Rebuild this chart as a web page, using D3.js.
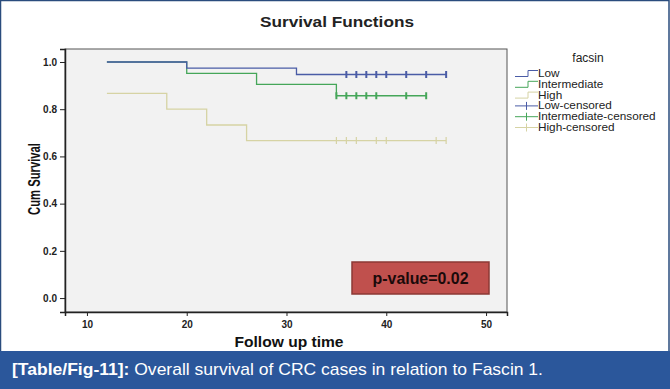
<!DOCTYPE html>
<html>
<head>
<meta charset="utf-8">
<script src="https://cdn.jsdelivr.net/npm/d3@7"></script>
<style>
  html, body { margin: 0; padding: 0; background: #fff; }
  svg { display: block; }
</style>
</head>
<body>
<div id="chart"></div>
<script>
// Kaplan-Meier steps
var groups = ["Low", "Intermediate", "High"];
var lowTime = [12, 20, 31, 46];
var lowSurv = [1.0, 0.974, 0.947, 0.947];
var lowCensored = [36, 37, 38, 39, 40, 42, 44, 46];

var midTime = [12, 20, 27, 35, 44];
var midSurv = [1.0, 0.952, 0.905, 0.857, 0.857];
var midCensored = [35, 36, 37, 38, 39, 42, 44];

var highTime = [12, 18, 22, 26, 46];
var highSurv = [0.867, 0.8, 0.733, 0.667, 0.667];
var highCensored = [35, 36, 37, 39, 40, 45, 46];

var xTicks = [10, 20, 30, 40, 50];
var yTicks = [0.0, 0.2, 0.4, 0.6, 0.8, 1.0];
var legendLabels = ["Low", "Intermediate", "High", "Low-censored", "Intermediate-censored", "High-censored"];
var colors = ["#4a5ca6", "#45a659", "#d6d3a4"];

var svg_Width = 670, svg_Height = 389;
var plot = { left: 65, right: 507, top: 49, bottom: 312 };

var svg = d3.select("#chart").append("svg")
  .attr("width", svg_Width)
  .attr("height", svg_Height);

// outer frame
svg.append("rect").attr("x", 0.5).attr("y", 0.5)
  .attr("width", svg_Width - 1.5).attr("height", svg_Height - 1)
  .attr("fill", "#fff").attr("stroke", "#2a4c7d").attr("stroke-width", 1.5);

// title
svg.append("text").attr("x", 337).attr("y", 27)
  .attr("text-anchor", "middle")
  .attr("textLength", 154).attr("lengthAdjust", "spacingAndGlyphs")
  .style("font", "bold 15px 'Liberation Sans', Arial, sans-serif")
  .attr("fill", "#222").text("Survival Functions");

var x = d3.scaleLinear().domain([7.8, 52.1]).range([plot.left, plot.right]);
var y = d3.scaleLinear().domain([-0.059, 1.055]).range([plot.bottom, plot.top]);

// plot area
svg.append("rect").attr("x", plot.left).attr("y", plot.top)
  .attr("width", plot.right - plot.left).attr("height", plot.bottom - plot.top)
  .attr("fill", "#f2f2f2").attr("stroke", "#555").attr("stroke-width", 1);

// axes
var xAxis = d3.axisBottom(x).tickValues(xTicks).tickSize(4).tickFormat(d3.format("d"));
var yAxis = d3.axisLeft(y).tickValues(yTicks).tickSize(5).tickFormat(d3.format(".1f"));

var gx = svg.append("g").attr("transform", "translate(0," + plot.bottom + ")").call(xAxis);
var gy = svg.append("g").attr("transform", "translate(" + plot.left + ",0)").call(yAxis);
[gx, gy].forEach(function(g) {
  g.select(".domain").attr("stroke", "#222").attr("stroke-width", 1.5);
  g.selectAll(".tick line").attr("stroke", "#222");
  g.selectAll(".tick text").attr("fill", "#222")
    .style("font", "bold 10px 'Liberation Sans', Arial, sans-serif");
});
gx.selectAll(".tick text").attr("dy", "0.85em");

// axis titles
svg.append("text").attr("x", 289).attr("y", 347)
  .attr("text-anchor", "middle")
  .attr("textLength", 109).attr("lengthAdjust", "spacingAndGlyphs")
  .style("font", "bold 14px 'Liberation Sans', Arial, sans-serif")
  .attr("fill", "#111").text("Follow up time");

svg.append("text")
  .attr("transform", "translate(34,179) rotate(-90)")
  .attr("text-anchor", "middle")
  .attr("dy", "0.35em")
  .attr("textLength", 72).attr("lengthAdjust", "spacingAndGlyphs")
  .style("font", "bold 16px 'Liberation Sans Narrow', 'Arial Narrow', sans-serif")
  .attr("fill", "#111").text("Cum Survival");

// survival curves
var series = [
  { t: lowTime, s: lowSurv, c: lowCensored },
  { t: midTime, s: midSurv, c: midCensored },
  { t: highTime, s: highSurv, c: highCensored }
];

var line = d3.line().curve(d3.curveStepAfter).x(d => x(d[0])).y(d => y(d[1]));

// draw High first so Low/Intermediate sit on top
[2, 1, 0].forEach(function(i) {
  var sr = series[i];
  var pts = sr.t.map((t, k) => [t, sr.s[k]]);
  svg.append("path").datum(pts)
    .attr("fill", "none").attr("stroke", colors[i]).attr("stroke-width", 1.3)
    .attr("d", line);
  var last = sr.s[sr.s.length - 1];
  svg.selectAll(".cens" + i).data(sr.c).enter().append("line")
    .attr("x1", d => x(d)).attr("x2", d => x(d))
    .attr("y1", y(last) - 3.5).attr("y2", y(last) + 3.5)
    .attr("stroke", colors[i]).attr("stroke-width", i === 2 ? 1.2 : 2);
});

// p-value box
svg.append("rect").attr("x", 352).attr("y", 262).attr("width", 137).attr("height", 32)
  .attr("fill", "#c0504d").attr("stroke", "#8c3835").attr("stroke-width", 1.5);
svg.append("text").attr("x", 420.5).attr("y", 284)
  .attr("text-anchor", "middle")
  .attr("textLength", 96).attr("lengthAdjust", "spacingAndGlyphs")
  .style("font", "bold 16px 'Liberation Sans', Arial, sans-serif")
  .attr("fill", "#1a0a0a").text("p-value=0.02");

// legend
var lg = svg.append("g");
lg.append("text").attr("x", 588).attr("y", 62).attr("text-anchor", "middle")
  .style("font", "12px 'Liberation Sans', Arial, sans-serif").attr("fill", "#222").text("facsin");
legendLabels.forEach(function(lab, i) {
  var yy = 73.5 + i * 10.8;
  var c = colors[i % 3];
  if (i < 3) {
    lg.append("path").attr("fill", "none").attr("stroke", c).attr("stroke-width", 1)
      .attr("d", "M515," + (yy + 3) + "H528V" + (yy - 3) + "H538");
  } else {
    lg.append("path").attr("fill", "none").attr("stroke", c).attr("stroke-width", 1)
      .attr("d", "M515," + yy + "H538M526.5," + (yy - 4) + "V" + (yy + 4));
  }
  var t = lg.append("text").attr("x", 538).attr("y", yy + 3.5)
    .style("font", "10.5px 'Liberation Sans', Arial, sans-serif").attr("fill", "#222").text(lab);
  // stretch a little, the source glyphs are wider than tall
  t.attr("textLength", t.node().getComputedTextLength() * 1.12)
    .attr("lengthAdjust", "spacingAndGlyphs");
});

// caption band
svg.append("rect").attr("x", 0).attr("y", 351).attr("width", svg_Width).attr("height", 38)
  .attr("fill", "#2b579b");
var cap = svg.append("text").attr("x", 12).attr("y", 375)
  .attr("textLength", 531).attr("lengthAdjust", "spacingAndGlyphs")
  .style("font", "17px 'Liberation Sans Narrow', 'Arial Narrow', sans-serif")
  .attr("fill", "#fff");
cap.append("tspan").style("font-weight", "bold").text("[Table/Fig-11]:");
cap.append("tspan").text(" Overall survival of CRC cases in relation to Fascin 1.");
</script>
</body>
</html>
